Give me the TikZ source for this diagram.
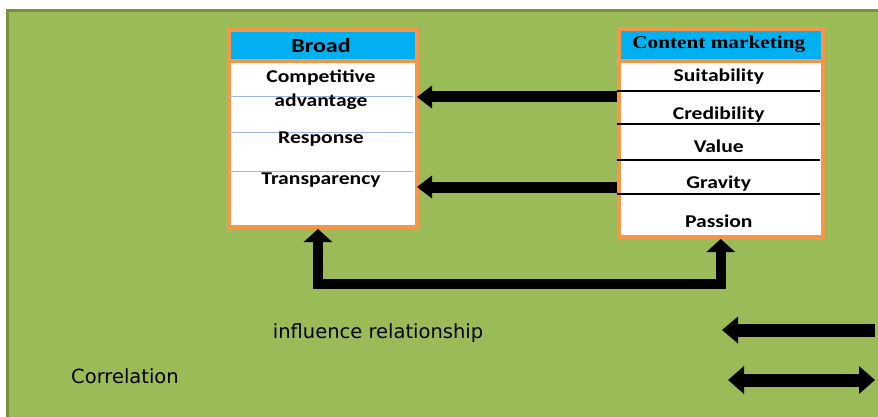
\documentclass[tikz,border=0pt]{standalone}
\usepackage{fontspec}
\setmainfont{Carlito}
\newfontfamily\filafont[FakeStretch=1.2]{Carlito}
\newfontfamily\titulo[FakeStretch=1.18]{Liberation Serif}
\newfontfamily\leyenda{DejaVu Sans}
\usetikzlibrary{arrows.meta}

\definecolor{fondo}{HTML}{9BBB59}
\definecolor{bordefondo}{HTML}{76923C}
\definecolor{naranja}{HTML}{F79646}
\definecolor{celeste}{HTML}{00B0F0}
\definecolor{lineaazul}{HTML}{9DB9E0}

\tikzset{
  caja/.style={draw=naranja, line width=4pt, fill=white, inner sep=0pt},
  cabecera/.style={draw=naranja, line width=4pt, fill=celeste, inner sep=0pt},
  fila/.style={font=\filafont\bfseries\fontsize{18}{20}\selectfont, inner sep=0pt},
  flecha/.style={line width=11pt, -{Triangle[length=15pt,width=22pt]}},
  flechaU/.style={line width=10pt, {Triangle[length=13pt,width=28pt]}-{Triangle[length=13pt,width=28pt]}},
  flechaL/.style={line width=13pt, -{Triangle[length=16pt,width=26pt]}},
  flechaD/.style={line width=13pt, {Triangle[length=16pt,width=27pt]}-{Triangle[length=16pt,width=27pt]}},
  textoley/.style={font=\leyenda\fontsize{19.5}{22}\selectfont, inner sep=0pt}
}

\begin{document}
\begin{tikzpicture}[x=1pt, y=-1pt]
	\useasboundingbox (0,0) rectangle (878,417);
	
	% Fondo verde
	\fill[fondo] (7,11) rectangle (878,417);
	\draw[bordefondo, line width=3pt] (7,417) -- (7,11) -- (878,11);
	
	% Caja Broad
	\node[caja, anchor=north west, minimum width=188, minimum height=196.5] (broad) at (227,28.5) {};
	\node[cabecera, anchor=north west, minimum width=188, minimum height=30.5] (broadT) at (227,28.5) {};
	\node[fila, font=\filafont\bfseries\fontsize{20}{22}\selectfont] (broadN) at (321,46) {Broad};
	\draw[lineaazul] (229,96) -- (413,96);
	\draw[lineaazul] (229,132) -- (413,132);
	\draw[lineaazul] (229,171) -- (413,171);
	\node[fila] (comp) at (321,78) {Competitive};
	\node[fila] (adv) at (321,102) {advantage};
	\node[fila] (resp) at (321,139) {Response};
	\node[fila] (transp) at (321,180) {Transparency};
	
	% Caja Content marketing
	\node[caja, anchor=north west, minimum width=203.5, minimum height=208] (content) at (617,27) {};
	\node[cabecera, anchor=north west, minimum width=203.5, minimum height=32] (contentT) at (617,27) {};
	\node[fila, font=\titulo\bfseries\fontsize{18}{20}\selectfont] (contentN) at (718.75,44) {Content marketing};
	\draw[line width=2pt] (617,91) -- (820,91);
	\draw[line width=2pt] (617,124) -- (820,124);
	\draw[line width=2pt] (617,160) -- (820,160);
	\draw[line width=2pt] (617,194) -- (820,194);
	\node[fila] (suit) at (718.75,77) {Suitability};
	\node[fila] (cred) at (718.75,115) {Credibility};
	\node[fila] (val) at (718.75,146) {Value};
	\node[fila] (grav) at (718.75,184) {Gravity};
	\node[fila] (pass) at (718.75,221) {Passion};
	
	% Flechas entre cajas
	\draw[flecha] ([yshift=5]content.west |- adv) -- ([xshift=-2,yshift=5]broad.east |- adv);
	\draw[flecha] ([yshift=-3]content.west |- grav) -- ([xshift=-2,yshift=-3]broad.east |- grav);
	\coordinate (base) at (0,284);
	\draw[flechaU] ([xshift=-5]broad.south) |- (base -| content.south) -- (content.south);
	
	% Leyenda
	\node[textoley] (infl) at (378,333) {influence relationship};
	\node[textoley] (corr) at (125,376) {Correlation};
	\coordinate (inA) at (875,330);
	\coordinate (inB) at (722,330);
	\coordinate (coA) at (728,380);
	\coordinate (coB) at (875,380);
	\draw[flechaL] (inA) -- (inB);
	\draw[flechaD] (coA) -- (coB);
	
\end{tikzpicture}
\end{document}
